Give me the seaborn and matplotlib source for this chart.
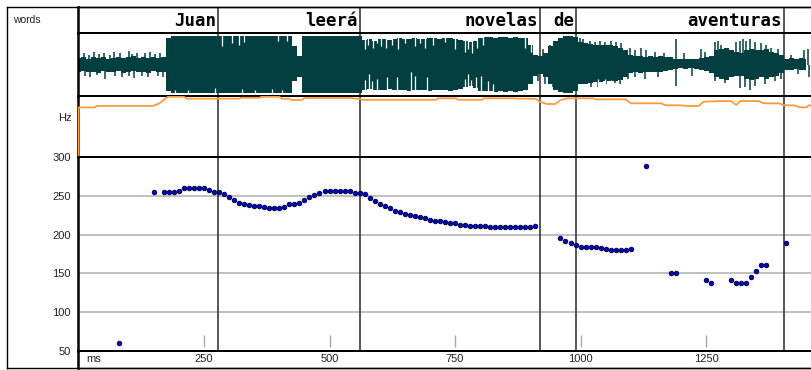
import numpy as np
import seaborn as sns
import matplotlib.pyplot as plt
import matplotlib.transforms as mtransforms

# ---- data ----
words = ["Juan", "leerá", "novelas", "de", "aventuras"]
word_ends = [278, 561, 919, 991, 1405]          # ms

hz_ticks = [50, 100, 150, 200, 250, 300]
ms_ticks = [250, 500, 750, 1000, 1250]

pitch_ms = [80, 150,
            170, 180, 190, 200, 210, 220, 230, 240, 250, 260,
            270, 280, 290, 300, 310, 320, 330, 340, 350, 360,
            370, 380, 390, 400, 410, 420, 430, 440, 450, 460,
            470, 480, 490, 500, 510, 520, 530, 540, 550, 560,
            570, 580, 590, 600, 610, 620, 630, 640, 650, 660,
            670, 680, 690, 700, 710, 720, 730, 740, 750, 760,
            770, 780, 790, 800, 810, 820, 830, 840, 850, 860,
            870, 880, 890, 900, 910,
            960, 970, 980, 990, 1000, 1010, 1020, 1030, 1040, 1050,
            1060, 1070, 1080, 1090, 1100,
            1130, 1180, 1190, 1250, 1260,
            1300, 1310, 1320, 1330, 1340, 1350, 1360, 1370, 1410]
pitch_hz = [60, 255,
            255, 255, 255, 256, 260, 260, 260, 260, 260, 258,
            255, 255, 252, 248, 244, 241, 239, 238, 237, 236.5,
            235, 234, 234, 234, 236, 239, 239.5, 241, 244, 248,
            251, 254, 256, 256, 256, 256, 256, 256, 254, 253,
            252, 247, 243, 240, 237, 234, 231, 229.5, 227, 225,
            224, 223, 222, 219, 218, 217.5, 216.5, 215, 214.5, 213,
            212.5, 211.5, 211, 211, 210.5, 210, 210, 210, 210, 210,
            210, 210, 210, 210, 211,
            196, 191.5, 189, 186, 184.5, 184.5, 184.5, 184.5, 183, 181.5,
            180, 180, 180, 180, 181.5,
            289, 151, 151, 141, 137.5,
            141, 137.5, 137.5, 137.5, 146, 153, 161, 161, 189]

int_ms = [0, 0, 33, 36, 148, 160, 178, 210, 215, 320,
          325, 360, 365, 400, 405, 420, 425, 445, 450, 545,
          550, 560, 565, 712, 716, 752, 756, 804, 808, 871,
          875, 910, 919, 933, 950, 960, 973, 1025, 1030, 1090,
          1100, 1160, 1170, 1200, 1210, 1235, 1245, 1275, 1300, 1310,
          1318, 1355, 1365, 1395, 1405, 1425, 1437, 1450, 1455, 1459]
int_db = [0, 65, 65, 67, 67, 70, 79, 79, 76.5, 76.5,
          77.7, 77.7, 79, 79, 76.5, 76.5, 74.7, 74.7, 77.3, 77.3,
          76.5, 76.5, 75.1, 75.1, 77, 77, 75.1, 75.1, 77, 77,
          76.5, 76.5, 72.5, 69.5, 69.5, 74.7, 77, 77, 75.6, 75.6,
          70.4, 70.4, 67.8, 67.8, 66.9, 66.9, 72.5, 73.4, 73.4, 68.2,
          73.4, 73.4, 70.4, 70.4, 67.8, 67.8, 65.2, 65.2, 67.8, 67.8]

# waveform envelope, one value per 10 ms frame (0 .. 1450 ms)
wave_up = [
    0.22, 0.25, 0.20, 0.27, 0.22, 0.25, 0.20, 0.24, 0.28, 0.22,
    0.25, 0.30, 0.22, 0.26, 0.24, 0.27, 0.22, 0.25,
    0.95, 1.00, 1.00, 1.00, 1.00, 1.00, 1.00, 1.00, 1.00, 1.00,
    1.00, 1.00, 1.00, 1.00, 1.00, 1.00, 1.00, 1.00, 1.00, 1.00,
    1.00, 1.00, 1.00, 1.00, 1.00,
    0.65, 0.30,
    1.00, 1.00, 1.00, 1.00, 1.00, 1.00, 1.00, 1.00, 1.00, 1.00, 1.00, 1.00,
    0.88, 0.90, 0.85, 0.90, 0.92, 0.88, 0.90, 0.93, 0.90, 0.92,
    0.95, 0.92, 0.90, 0.93, 0.95, 0.92, 0.95, 0.93, 0.90, 0.88,
    0.85, 0.80, 0.85,
    0.95, 0.97, 0.97, 0.95, 0.97, 0.97, 0.95, 0.97, 0.95, 0.93, 0.70,
    0.35, 0.30, 0.40, 0.65,
    0.85, 0.95, 1.00, 1.00, 0.97,
    0.80, 0.75, 0.72, 0.70, 0.70, 0.68, 0.70, 0.65, 0.60, 0.50,
    0.35, 0.30, 0.32, 0.28, 0.30, 0.28, 0.30, 0.26, 0.25,
    0.20, 0.18, 0.20, 0.18, 0.20, 0.22, 0.25, 0.30,
    0.50, 0.55, 0.60, 0.50, 0.45,
    0.40, 0.50, 0.55, 0.50, 0.50, 0.55, 0.45, 0.40, 0.35,
    0.20, 0.22, 0.20, 0.22, 0.20,
]
wave_lo = [
    0.25, 0.22, 0.27, 0.25, 0.30, 0.22, 0.25, 0.28, 0.22, 0.30,
    0.25, 0.22, 0.27, 0.25, 0.30, 0.22, 0.26, 0.25,
    0.95, 1.00, 1.00, 1.00, 1.00, 1.00, 1.00, 1.00, 1.00, 1.00,
    1.00, 1.00, 1.00, 1.00, 1.00, 1.00, 1.00, 1.00, 1.00, 1.00,
    1.00, 1.00, 1.00, 1.00, 1.00,
    0.60, 0.45,
    1.00, 1.00, 1.00, 1.00, 1.00, 1.00, 1.00, 1.00, 1.00, 1.00, 1.00, 1.00,
    0.90, 0.88, 0.90, 0.92, 0.90, 0.88, 0.90, 0.92, 0.90, 0.93,
    0.90, 0.92, 0.90, 0.93, 0.90, 0.92, 0.90, 0.93, 0.90, 0.88,
    0.80, 0.75, 0.85,
    0.93, 0.95, 0.95, 0.97, 0.95, 0.97, 0.95, 0.97, 0.95, 0.90, 0.70,
    0.40, 0.35, 0.45, 0.70,
    0.90, 0.97, 1.00, 1.00, 0.95,
    0.70, 0.68, 0.65, 0.62, 0.62, 0.60, 0.60, 0.58, 0.55, 0.45,
    0.30, 0.28, 0.30, 0.25, 0.28, 0.25, 0.27, 0.22, 0.20,
    0.15, 0.12, 0.15, 0.12, 0.15, 0.18, 0.22, 0.30,
    0.45, 0.50, 0.55, 0.45, 0.40,
    0.40, 0.50, 0.55, 0.50, 0.45, 0.50, 0.45, 0.40, 0.30,
    0.18, 0.20, 0.17, 0.20, 0.18,
]
wave_ms = np.arange(0, 1460, 10)

# single spikes sticking out of the envelope
spike_up_ms = [10, 20, 30, 40, 50, 63, 70, 83, 100, 106, 116, 133, 143, 153, 163,
               925, 940, 998, 1005, 1018, 1028, 1038, 1048, 1061, 1071, 1081,
               1098, 1108, 1121, 1131, 1148, 1167, 1191, 1207, 1240, 1247,
               1267, 1274, 1280, 1310, 1317, 1323, 1330, 1337, 1347, 1360,
               1370, 1380, 1393, 1420, 1446, 1453]
spike_up = [0.40, 0.35, 0.45, 0.38, 0.42, 0.35, 0.45, 0.40, 0.48, 0.38, 0.42, 0.40, 0.45, 0.38, 0.42,
            0.55, 0.70, 0.95, 0.90, 0.85, 0.80, 0.85, 0.80, 0.85, 0.80, 0.75,
            0.60, 0.50, 0.60, 0.50, 0.45, 0.40, 0.90, 0.40, 0.55, 0.45,
            0.80, 0.85, 0.70, 0.80, 0.85, 0.90, 0.85, 0.90, 0.80, 0.75,
            0.70, 0.60, 0.55, 0.35, 0.50, 0.55]
spike_dn_ms = [13, 23, 37, 53, 73, 86, 100, 110, 126, 139, 159, 169,
               915, 930, 945, 1021, 1035, 1051, 1068, 1078, 1094, 1108, 1128,
               1154, 1191, 1221, 1267, 1287, 1317, 1327, 1337, 1347, 1367,
               1387, 1400, 1433, 1456]
spike_dn = [0.40, 0.45, 0.38, 0.50, 0.42, 0.45, 0.40, 0.48, 0.42, 0.45, 0.40, 0.45,
            0.60, 0.70, 0.80, 0.80, 0.80, 0.70, 0.65, 0.70, 0.50, 0.45, 0.50,
            0.45, 0.75, 0.40, 0.60, 0.65, 0.85, 0.80, 0.90, 0.75, 0.70,
            0.60, 0.50, 0.35, 0.45]

# light gaps cutting into the loud parts
gap_top_ms = [285, 305, 319, 329, 398, 415, 570, 577, 587, 595, 603, 613, 624, 636,
              651, 670, 680, 691, 706, 729, 749, 769, 776, 784, 794, 806, 889, 901]
gap_top = [0.65, 0.75, 0.70, 0.80, 0.85, 0.85, 0.55, 0.70, 0.60, 0.75, 0.65, 0.60, 0.70, 0.55,
           0.75, 0.65, 0.75, 0.60, 0.70, 0.80, 0.55, 0.45, 0.55, 0.40, 0.60, 0.70, 0.60, 0.45]
gap_bot_ms = [193, 219, 272, 325, 352, 385, 405, 570, 578, 585, 595, 615, 635, 662,
              671, 695, 769, 776, 782, 792, 802, 816, 826, 1035, 1048, 1061, 1075]
gap_bot = [0.90, 0.90, 0.85, 0.88, 0.90, 0.88, 0.90, 0.55, 0.35, 0.60, 0.50, 0.45, 0.45, 0.25,
           0.40, 0.45, 0.50, 0.35, 0.55, 0.45, 0.40, 0.60, 0.70, 0.50, 0.50, 0.55, 0.55]

# ---- layout ----
sns.set_style("white")
plt.rcParams['font.family'] = ['Liberation Sans', 'DejaVu Sans']

W, H = 811, 370
fig = plt.figure(figsize=(W / 100, H / 100), dpi=100)
fig.patch.set_facecolor("white")


def box(x0, y0, x1, y1):
    return fig.add_axes([x0 / W, 1 - y1 / H, (x1 - x0) / W, (y1 - y0) / H])


TMIN, TMAX = -1, 1459
WAVE = "#033f40"
GRIDC = "#b4b4b4"

frame = box(7, 7, 815, 368)
frame.set_xticks([])
frame.set_yticks([])
for s in ["left", "top", "bottom"]:
    frame.spines[s].set_linewidth(1.0)
    frame.spines[s].set_color("black")
frame.spines["right"].set_visible(False)

word_ax = box(78, 7, 811, 33)
wave_ax = box(78, 33, 811, 96)
int_ax = box(78, 96, 811, 157)
pitch_ax = box(78, 157, 811, 351)
ms_ax = box(78, 351, 811, 368)

for ax in [word_ax, wave_ax, int_ax, pitch_ax, ms_ax]:
    ax.set_xlim(TMIN, TMAX)
    ax.set_xticks([])
    ax.set_facecolor("none")
    ax.spines["right"].set_visible(False)
    for s in ["left", "top", "bottom"]:
        ax.spines[s].set_color("black")
        ax.spines[s].set_linewidth(1.4)
    ax.spines["left"].set_linewidth(1.8)
word_ax.spines["top"].set_linewidth(1.0)
ms_ax.spines["bottom"].set_linewidth(1.0)

# word boundaries
for ax in [word_ax, wave_ax, int_ax, pitch_ax]:
    for b in word_ends:
        ax.axvline(b, color="#2a2a2a", lw=1.1, zorder=1)

# words
word_ax.set_ylim(0, 1)
word_ax.set_yticks([])
trans = mtransforms.blended_transform_factory(word_ax.transData, word_ax.transAxes)
for w, b in zip(words, word_ends):
    word_ax.text(b - 4, 0.48, w, ha="right", va="center", transform=trans,
                 family="DejaVu Sans Mono", weight="bold", fontsize=12.5, color="black")

# waveform
wave_ax.set_ylim(-1.12, 1.12)
wave_ax.set_yticks([])
wave_ax.fill_between(wave_ms, -np.array(wave_lo), np.array(wave_up), step="mid",
                     color=WAVE, lw=0, zorder=2)
wave_ax.vlines(spike_up_ms, 0, spike_up, color=WAVE, lw=1.1, zorder=2)
wave_ax.vlines(spike_dn_ms, -np.array(spike_dn), 0, color=WAVE, lw=1.1, zorder=2)
wave_ax.vlines(gap_top_ms, gap_top, 1.05, color="white", lw=0.9, zorder=3)
wave_ax.vlines(gap_bot_ms, -1.05, -np.array(gap_bot), color="white", lw=0.9, zorder=3)

# intensity
int_ax.set_ylim(0, 80)
int_ax.set_yticks([])
sns.lineplot(x=int_ms, y=int_db, ax=int_ax, color="#ff9a3c", lw=1.3,
             estimator=None, sort=False, zorder=3)
int_ax.set_xlabel("")
int_ax.set_ylabel("")

# pitch
pitch_ax.set_ylim(50, 300)
pitch_ax.set_yticks(hz_ticks)
pitch_ax.set_yticklabels([str(v) for v in hz_ticks])
pitch_ax.tick_params(axis="y", length=0, pad=5, labelsize=8, colors="#222222")
for v in hz_ticks[1:-1]:
    pitch_ax.axhline(v, color=GRIDC, lw=1.2, zorder=0)
pitch_ax.vlines(ms_ticks, 55, 70, color="#a8a8a8", lw=1.0, zorder=1)
sns.scatterplot(x=pitch_ms, y=pitch_hz, ax=pitch_ax, color="#0000c8",
                edgecolor="#000030", linewidth=0.6, s=11, zorder=4, legend=False)
pitch_ax.set_xlim(TMIN, TMAX)
pitch_ax.set_xlabel("")
pitch_ax.set_ylabel("")

# ms axis row
ms_ax.set_ylim(0, 1)
ms_ax.set_yticks([])
for t in ms_ticks:
    ms_ax.text(t, 0.5, str(t), ha="center", va="center", fontsize=8, color="#222222")
ms_ax.text(16, 0.5, "ms", ha="left", va="center", fontsize=8, color="#222222")

# label column
fig.text(13 / W, 1 - 20 / H, "words", ha="left", va="center", fontsize=7.5, color="#222222")
fig.text(72 / W, 1 - 118 / H, "Hz", ha="right", va="center", fontsize=8, color="#222222")

fig.savefig("out.png", dpi=100)
